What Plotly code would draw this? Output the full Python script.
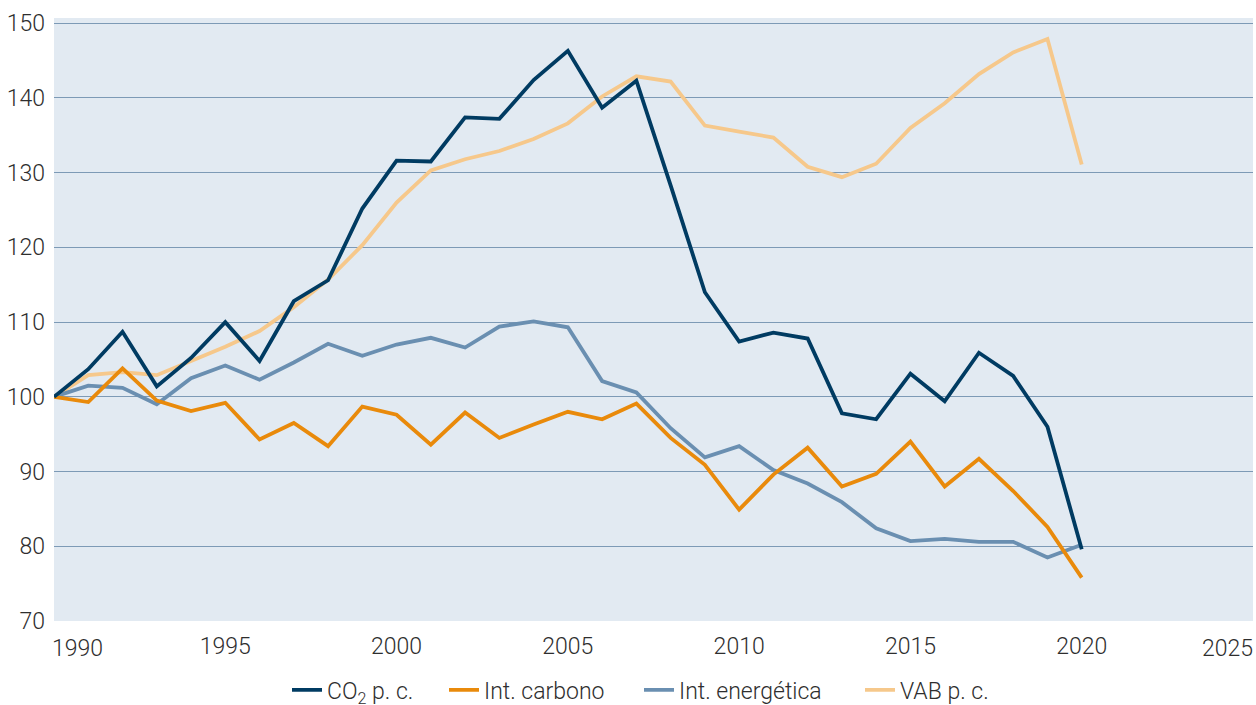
import plotly.graph_objects as go

years = list(range(1990, 2021))

co2_pc = [100, 103.7, 108.7, 101.4, 105.2, 110.0, 104.8, 112.8, 115.6, 125.2,
          131.6, 131.5, 137.4, 137.2, 142.4, 146.3, 138.7, 142.3, 128.3, 114.0,
          107.4, 108.6, 107.8, 97.8, 97.0, 103.1, 99.4, 105.9, 102.8, 96.0, 79.6]

int_carbono = [100, 99.3, 103.8, 99.5, 98.1, 99.2, 94.3, 96.5, 93.4, 98.7,
               97.6, 93.6, 97.9, 94.5, 96.3, 98.0, 97.0, 99.1, 94.5, 90.9,
               84.9, 89.6, 93.2, 88.0, 89.7, 94.0, 88.0, 91.7, 87.4, 82.6, 75.8]

int_energetica = [100, 101.5, 101.2, 99.0, 102.5, 104.2, 102.3, 104.6, 107.1, 105.5,
                  107.0, 107.9, 106.6, 109.4, 110.1, 109.3, 102.1, 100.6, 95.8, 91.9,
                  93.4, 90.2, 88.4, 85.9, 82.4, 80.7, 81.0, 80.6, 80.6, 78.5, 80.2]

vab_pc = [100, 102.9, 103.3, 102.9, 104.8, 106.7, 108.8, 112.0, 115.7, 120.3,
          126.0, 130.3, 131.8, 132.9, 134.5, 136.6, 140.2, 142.9, 142.2, 136.3,
          135.5, 134.7, 130.8, 129.4, 131.2, 136.0, 139.3, 143.2, 146.1, 147.9, 131.1]

series_names = ["CO<sub>2</sub> p. c.", "Int. carbono", "Int. energética", "VAB p. c."]
series_values = [co2_pc, int_carbono, int_energetica, vab_pc]
colors = ["#003b62", "#e98a0b", "#6a8fb1", "#f6c88b"]
legend_ids = ["legend", "legend2", "legend3", "legend4"]

x_ticks = [1990, 1995, 2000, 2005, 2010, 2015, 2020, 2025]
y_ticks = [70, 80, 90, 100, 110, 120, 130, 140, 150]

FONT = "Roboto"
TXT = "#2e2e2e"
W, H = 1256, 705
ML, MR, MT, MB = 54, 3, 18, 84
PW = W - ML - MR
PH = H - MT - MB

fig = go.Figure()

order = [3, 2, 1, 0]
for i in order:
    fig.add_trace(go.Scatter(
        x=years, y=series_values[i], mode="lines", name=series_names[i],
        line=dict(color=colors[i], width=3.8), legend=legend_ids[i],
    ))

# legend entry left edges (pixels) for each series' line symbol
legend_px = [292, 449, 644, 865]
legend_layout = {}
for lid, px in zip(legend_ids, legend_px):
    legend_layout[lid] = dict(
        orientation="h", x=(px - 5 - ML) / PW, xanchor="left",
        y=-(690 - (H - MB)) / PH, yanchor="middle",
        font=dict(family=FONT, size=23, color=TXT, weight=300),
        bgcolor="rgba(0,0,0,0)", borderwidth=0,
    )

fig.update_layout(
    width=W, height=H,
    margin=dict(l=ML, r=MR, t=MT, b=MB, autoexpand=False),
    paper_bgcolor="white", plot_bgcolor="#e2eaf2",
    font=dict(family=FONT, size=23, color=TXT),
    showlegend=True,
    **legend_layout,
)

fig.update_xaxes(
    range=[1990, 2025], tickvals=x_ticks[1:-1], ticktext=[str(v) for v in x_ticks[1:-1]],
    showgrid=False, zeroline=False, showline=False, ticks="", ticklen=0,
    ticklabelstandoff=9,
    tickfont=dict(family=FONT, size=23, color=TXT, weight=300), automargin=False,
)
fig.update_yaxes(
    range=[70, 150.7], tickvals=y_ticks, showgrid=True, gridcolor="#7d9ab6", gridwidth=1.4,
    zeroline=False, showline=False, ticks="", ticklabelstandoff=8,
    tickfont=dict(family=FONT, size=23, color=TXT, weight=300),
    automargin=False,
)

fig.add_annotation(x=x_ticks[0], y=0, xref="x", yref="paper", text=str(x_ticks[0]),
                   xanchor="left", yanchor="top", showarrow=False, xshift=-4, yshift=-12,
                   font=dict(family=FONT, size=23, color=TXT, weight=300))
fig.add_annotation(x=x_ticks[-1], y=0, xref="x", yref="paper", text=str(x_ticks[-1]),
                   xanchor="right", yanchor="top", showarrow=False, xshift=2, yshift=-12,
                   font=dict(family=FONT, size=23, color=TXT, weight=300))

fig.write_html("out.html", config={"displayModeBar": False},
               post_script="document.body.style.margin='0px';")
